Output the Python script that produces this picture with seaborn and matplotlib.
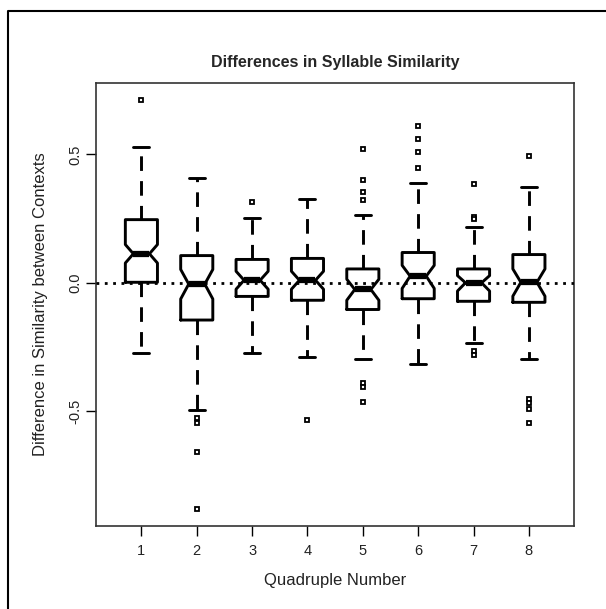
import matplotlib
matplotlib.use("Agg")
import matplotlib.pyplot as plt
from matplotlib.lines import Line2D
import seaborn as sns

sns.set_style("white")
plt.rcParams["font.family"] = ["Liberation Sans", "DejaVu Sans"]

# Summary statistics (one entry per quadruple)
quadruples = ["1", "2", "3", "4", "5", "6", "7", "8"]
whis_lo = [-0.272, -0.496, -0.272, -0.289, -0.298, -0.318, -0.236, -0.298]
q1 = [0.002, -0.145, -0.053, -0.068, -0.104, -0.062, -0.072, -0.076]
median = [0.113, -0.005, 0.010, 0.010, -0.026, 0.026, 0.000, 0.002]
q3 = [0.246, 0.106, 0.091, 0.095, 0.054, 0.118, 0.054, 0.110]
whis_hi = [0.529, 0.409, 0.254, 0.325, 0.263, 0.388, 0.218, 0.374]
notch_lo = [0.077, -0.063, -0.025, -0.025, -0.068, -0.022, -0.032, -0.052]
notch_hi = [0.149, 0.052, 0.045, 0.045, 0.014, 0.068, 0.028, 0.054]
outliers = [
    [0.713],
    [-0.528, -0.545, -0.659, -0.882],
    [0.314],
    [-0.535],
    [0.521, 0.399, 0.354, 0.321, -0.392, -0.406, -0.465],
    [0.612, 0.560, 0.508, 0.447],
    [0.385, 0.257, 0.249, -0.266, -0.283],
    [0.495, -0.454, -0.467, -0.493, -0.547],
]

stats = []
for i, lab in enumerate(quadruples):
    stats.append({
        "label": lab, "whislo": whis_lo[i], "q1": q1[i], "med": median[i],
        "q3": q3[i], "whishi": whis_hi[i], "cilo": notch_lo[i],
        "cihi": notch_hi[i], "fliers": outliers[i],
    })

W, H = 606, 609
fig = plt.figure(figsize=(W / 100, H / 100), dpi=100)
ax = fig.add_axes([96 / W, 1 - 525.7 / H, (574.3 - 96) / W, (525.7 - 83.3) / H])

ax.bxp(
    stats, positions=range(1, 9), widths=0.58, capwidths=0.29,
    shownotches=True, patch_artist=False,
    boxprops=dict(color="black", linewidth=2.1),
    whiskerprops=dict(color="black", linewidth=2.1, linestyle=(0, (5, 3.5))),
    capprops=dict(color="black", linewidth=2.1),
    medianprops=dict(color="black", linewidth=4.5, solid_capstyle="butt"),
    flierprops=dict(marker="s", markersize=3.5, markerfacecolor="white",
                    markeredgecolor="black", markeredgewidth=1.3),
)

ax.axhline(0, color="black", linewidth=2, linestyle=(0, (1, 2)), zorder=5)

ax.set_xlim(0.18, 8.82)
ax.set_ylim(-0.946, 0.777)
ax.set_xticks(range(1, 9))
ax.set_xticklabels(quadruples)
ax.set_yticks([-0.5, 0.0, 0.5])
ax.set_yticklabels(["-0.5", "0.0", "0.5"], rotation=90, va="center")

ax.tick_params(axis="both", direction="out", length=7, width=1, color="black",
               labelsize=10.5, labelcolor="#222222", left=True, bottom=True)
ax.tick_params(axis="x", pad=6)
ax.tick_params(axis="y", pad=3)
for sp in ax.spines.values():
    sp.set_color("#333333")
    sp.set_linewidth(1.2)

ax.set_xlabel("Quadruple Number", fontsize=12, color="#222222")
ax.set_ylabel("Difference in Similarity between Contexts", fontsize=12, color="#222222")
ax.xaxis.set_label_coords(0.5, -0.108)
ax.yaxis.set_label_coords(-0.1, 0.5)

fig.text(335 / W, 1 - 63 / H, "Differences in Syllable Similarity",
         ha="center", va="center", fontsize=11.5, fontweight="bold")

# partial frame around the whole picture (left and top edges)
fig.add_artist(Line2D([8 / W, 8 / W, 1.0], [0.0, 1 - 11 / H, 1 - 11 / H],
                      transform=fig.transFigure, color="black", linewidth=1.5))

fig.savefig("out.png", dpi=100)
plt.close(fig)
